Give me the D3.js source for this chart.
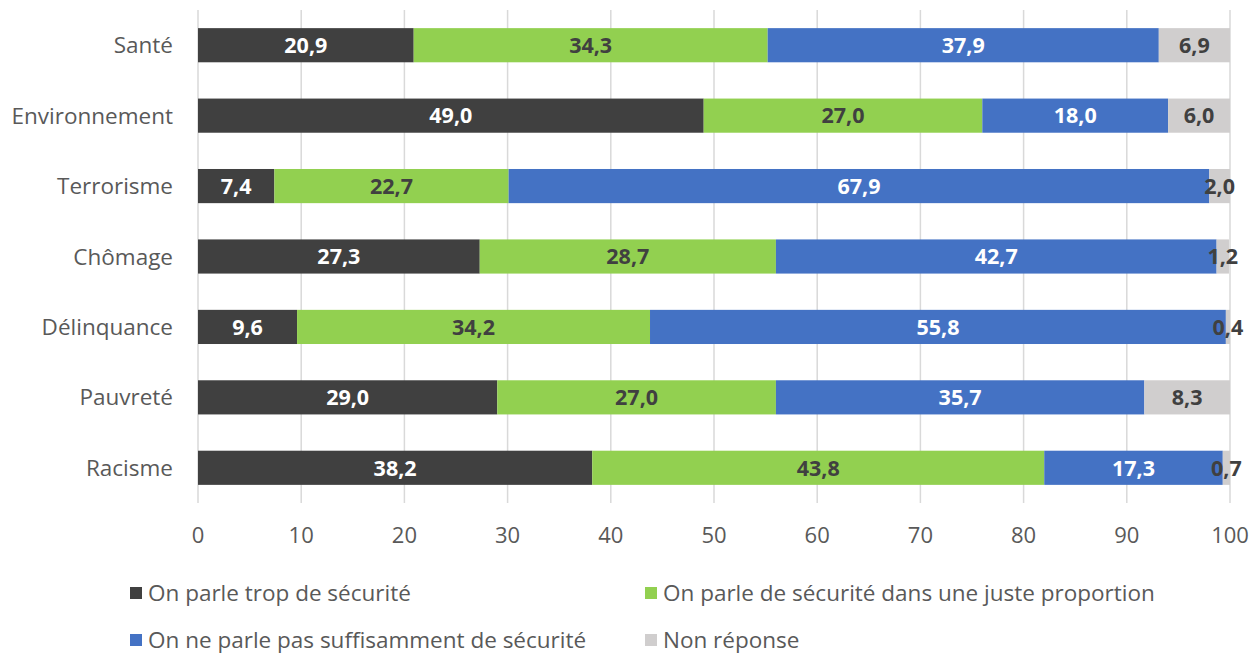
<!DOCTYPE html>
<html>
<head>
<meta charset="utf-8">
<script src="https://cdn.jsdelivr.net/npm/d3@7"></script>
<style>
  body { margin: 0; background: #fff; }
  text { font-family: "Open Sans", Lato, sans-serif; }
</style>
</head>
<body>
<svg id="chart" width="1260" height="672"></svg>
<script>
const categories = ["Santé", "Environnement", "Terrorisme", "Chômage", "Délinquance", "Pauvreté", "Racisme"];
const seriesNames = [
  "On parle trop de sécurité",
  "On parle de sécurité dans une juste proportion",
  "On ne parle pas suffisamment de sécurité",
  "Non réponse"
];
const trop = [20.9, 49.0, 7.4, 27.3, 9.6, 29.0, 38.2];
const juste = [34.3, 27.0, 22.7, 28.7, 34.2, 27.0, 43.8];
const pasAssez = [37.9, 18.0, 67.9, 42.7, 55.8, 35.7, 17.3];
const nonReponse = [6.9, 6.0, 2.0, 1.2, 0.4, 8.3, 0.7];
const xTicks = [0, 10, 20, 30, 40, 50, 60, 70, 80, 90, 100];

const colors = ["#404040", "#92d050", "#4472c4", "#d0cece"];
const labelColors = ["#ffffff", "#404040", "#ffffff", "#404040"];

const svg = d3.select("#chart");
const plotLeft = 198, plotRight = 1230, plotTop = 10, plotBottom = 503;

const x = d3.scaleLinear().domain([0, 100]).range([plotLeft, plotRight]);
const y = d3.scaleBand().domain(categories).range([plotTop, plotBottom]).paddingInner(0.515).paddingOuter(0.2575);

// gridlines
svg.append("g")
  .selectAll("line")
  .data(xTicks)
  .join("line")
  .attr("x1", d => x(d)).attr("x2", d => x(d))
  .attr("y1", plotTop).attr("y2", plotBottom)
  .attr("stroke", "#d9d9d9").attr("stroke-width", 1.5);

const rows = categories.map((c, i) => ({ cat: c, vals: [trop[i], juste[i], pasAssez[i], nonReponse[i]] }));
const stackData = d3.stack().keys([0, 1, 2, 3]).value((d, k) => d.vals[k])(rows);

const layers = svg.append("g")
  .selectAll("g")
  .data(stackData)
  .join("g")
  .attr("fill", (d, i) => colors[i]);

layers.selectAll("rect")
  .data(d => d)
  .join("rect")
  .attr("x", d => x(d[0]))
  .attr("width", d => x(d[1]) - x(d[0]))
  .attr("y", d => y(d.data.cat))
  .attr("height", y.bandwidth());

const fmt = v => v.toFixed(1).replace(".", ",");

const labels = svg.append("g");
stackData.forEach((layer, k) => {
  labels.append("g")
    .selectAll("text")
    .data(layer)
    .join("text")
    .attr("x", d => (x(d[0]) + x(d[1])) / 2)
    .attr("y", d => y(d.data.cat) + y.bandwidth() / 2)
    .attr("dy", "0.36em")
    .attr("text-anchor", "middle")
    .attr("font-size", 21.5)
    .attr("font-weight", "bold")
    .attr("fill", labelColors[k])
    .text(d => fmt(d.data.vals[k]));
});

// category axis labels
svg.append("g")
  .selectAll("text")
  .data(categories)
  .join("text")
  .attr("x", plotLeft - 25)
  .attr("y", d => y(d) + y.bandwidth() / 2)
  .attr("dy", "0.36em")
  .attr("text-anchor", "end")
  .attr("font-size", 22.5)
  .attr("fill", "#595959")
  .text(d => d);

// x tick labels
svg.append("g")
  .selectAll("text")
  .data(xTicks)
  .join("text")
  .attr("x", d => x(d))
  .attr("y", 535)
  .attr("dy", "0.36em")
  .attr("text-anchor", "middle")
  .attr("font-size", 22)
  .attr("fill", "#595959")
  .text(d => d);

// legend
const legendPos = [[130, 593], [645, 593], [130, 640], [645, 640]];
const legend = svg.append("g")
  .selectAll("g")
  .data(seriesNames)
  .join("g")
  .attr("transform", (d, i) => `translate(${legendPos[i][0]},${legendPos[i][1]})`);
legend.append("rect")
  .attr("x", 0).attr("y", -6).attr("width", 12).attr("height", 12)
  .attr("fill", (d, i) => colors[i]);
legend.append("text")
  .attr("x", 18).attr("y", 0).attr("dy", "0.36em")
  .attr("font-size", 22.5)
  .attr("fill", "#595959")
  .text(d => d);
</script>
</body>
</html>
